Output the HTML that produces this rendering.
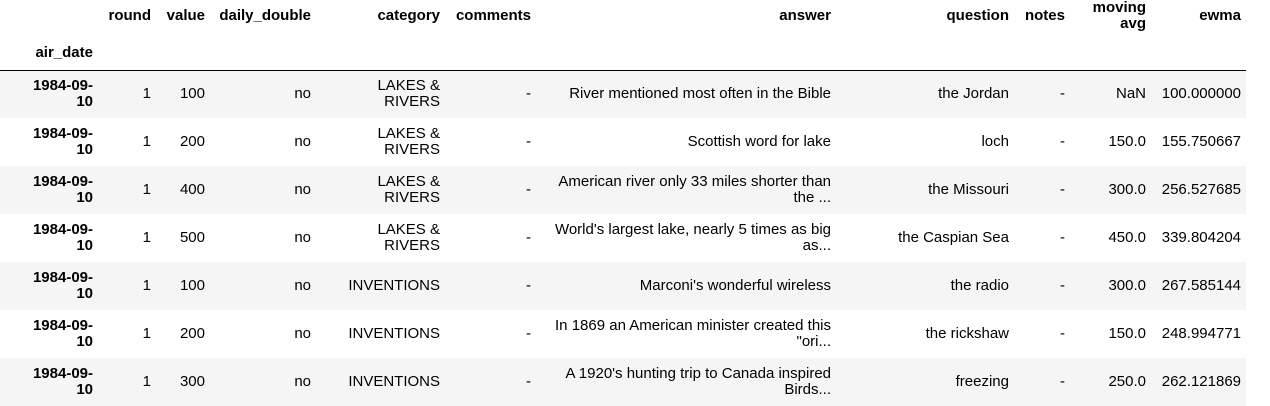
<!DOCTYPE html>
<html><head><meta charset="utf-8"><style>
body{margin:0;background:#fff;width:1270px;height:404px;overflow:hidden;font-family:"Liberation Sans",Arial,sans-serif;font-size:15px;color:#000}
table{border-collapse:collapse;table-layout:fixed;width:1246px;position:absolute;left:0;top:0}
td,th{text-align:right;padding:0 5px 0 0;line-height:16px;vertical-align:middle;overflow:hidden;white-space:nowrap}
th{font-weight:bold}
thead tr.h1{height:30px}
thead tr.h1 th{height:30px;padding-top:0;padding-bottom:0}
thead tr.h2{height:38px;border-bottom:1px solid #000}
thead tr.h2 th{height:38px;vertical-align:bottom;padding-bottom:9px;box-sizing:border-box}
tbody tr{height:48px}
tbody tr:nth-child(odd){background:#f5f5f5}
</style></head><body>
<table>
<colgroup><col style="width:98px"><col style="width:58px"><col style="width:54px"><col style="width:106px"><col style="width:129px"><col style="width:91px"><col style="width:300px"><col style="width:178px"><col style="width:56px"><col style="width:81px"><col style="width:95px"></colgroup>
<thead>
<tr class="h1"><th></th><th>round</th><th>value</th><th>daily_double</th><th>category</th><th>comments</th><th>answer</th><th>question</th><th>notes</th><th>moving<br>avg</th><th>ewma</th></tr>
<tr class="h2"><th>air_date</th><th></th><th></th><th></th><th></th><th></th><th></th><th></th><th></th><th></th><th></th></tr>
</thead>
<tbody>
<tr><th>1984-09-<br>10</th><td>1</td><td>100</td><td>no</td><td>LAKES &amp;<br>RIVERS</td><td>-</td><td>River mentioned most often in the Bible</td><td>the Jordan</td><td>-</td><td>NaN</td><td>100.000000</td></tr>
<tr><th>1984-09-<br>10</th><td>1</td><td>200</td><td>no</td><td>LAKES &amp;<br>RIVERS</td><td>-</td><td>Scottish word for lake</td><td>loch</td><td>-</td><td>150.0</td><td>155.750667</td></tr>
<tr><th>1984-09-<br>10</th><td>1</td><td>400</td><td>no</td><td>LAKES &amp;<br>RIVERS</td><td>-</td><td>American river only 33 miles shorter than<br>the ...</td><td>the Missouri</td><td>-</td><td>300.0</td><td>256.527685</td></tr>
<tr><th>1984-09-<br>10</th><td>1</td><td>500</td><td>no</td><td>LAKES &amp;<br>RIVERS</td><td>-</td><td>World's largest lake, nearly 5 times as big<br>as...</td><td>the Caspian Sea</td><td>-</td><td>450.0</td><td>339.804204</td></tr>
<tr><th>1984-09-<br>10</th><td>1</td><td>100</td><td>no</td><td>INVENTIONS</td><td>-</td><td>Marconi's wonderful wireless</td><td>the radio</td><td>-</td><td>300.0</td><td>267.585144</td></tr>
<tr><th>1984-09-<br>10</th><td>1</td><td>200</td><td>no</td><td>INVENTIONS</td><td>-</td><td>In 1869 an American minister created this<br>"ori...</td><td>the rickshaw</td><td>-</td><td>150.0</td><td>248.994771</td></tr>
<tr><th>1984-09-<br>10</th><td>1</td><td>300</td><td>no</td><td>INVENTIONS</td><td>-</td><td>A 1920's hunting trip to Canada inspired<br>Birds...</td><td>freezing</td><td>-</td><td>250.0</td><td>262.121869</td></tr>
</tbody></table>
</body></html>
